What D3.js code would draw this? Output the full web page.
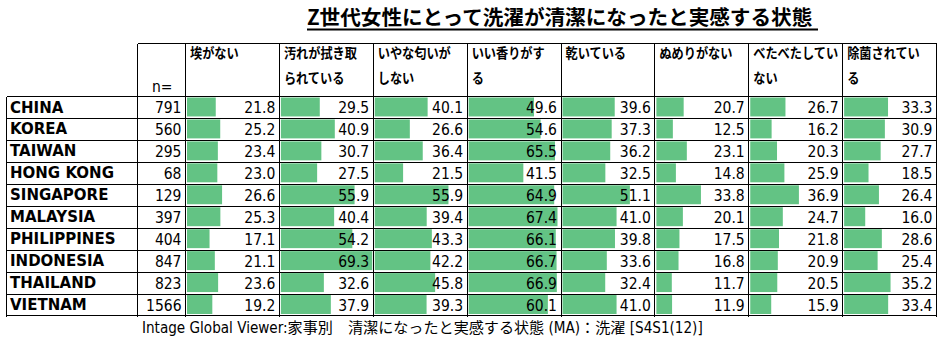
<!DOCTYPE html>
<html><head><meta charset="utf-8">
<script src="https://cdn.jsdelivr.net/npm/d3@7"></script>
<style>
html,body{margin:0;padding:0;background:#fff;}
svg{display:block;}
.num{font-family:"DejaVu Sans Condensed","DejaVu Sans",sans-serif;font-stretch:condensed;font-size:15.5px;fill:#000;}
.cty{font-family:"DejaVu Sans",sans-serif;font-weight:bold;font-size:15px;fill:#000;}
.hdr{font-family:"Noto Sans CJK JP",sans-serif;font-weight:bold;font-size:14px;fill:#000;}
.ttl{font-family:"Noto Sans CJK JP",sans-serif;font-weight:bold;font-size:20.6px;fill:#000;}
.ftr{font-family:"DejaVu Sans Condensed","DejaVu Sans","Noto Sans CJK JP",sans-serif;font-stretch:condensed;font-size:15.1px;fill:#000;}
</style>
</head><body>
<script>
const titleText = "Z世代女性にとって洗濯が清潔になったと実感する状態";
const footerText = "Intage Global Viewer:家事別\u3000清潔になったと実感する状態 (MA)：洗濯 [S4S1(12)]";
const countries = ["CHINA","KOREA","TAIWAN","HONG KONG","SINGAPORE","MALAYSIA","PHILIPPINES","INDONESIA","THAILAND","VIETNAM"];
const nValues = [791,560,295,68,129,397,404,847,823,1566];
const headers = ["埃がない","汚れが拭き取られている","いやな匂いがしない","いい香りがする","乾いている","ぬめりがない","べたべたしていない","除菌されている"];
const headerLines = [["埃がない"],["汚れが拭き取","られている"],["いやな匂いが","しない"],["いい香りがす","る"],["乾いている"],["ぬめりがない"],["べたべたしてい","ない"],["除菌されてい","る"]];
const dust    = [21.8,25.2,23.4,23.0,26.6,25.3,17.1,21.1,23.6,19.2];
const dirt    = [29.5,40.9,30.7,27.5,55.9,40.4,54.2,69.3,32.6,37.9];
const odor    = [40.1,26.6,36.4,21.5,55.9,39.4,43.3,42.2,45.8,39.3];
const scent   = [49.6,54.6,65.5,41.5,64.9,67.4,66.1,66.7,66.9,60.1];
const dry     = [39.6,37.3,36.2,32.5,51.1,41.0,39.8,33.6,32.4,41.0];
const slime   = [20.7,12.5,23.1,14.8,33.8,20.1,17.5,16.8,11.7,11.9];
const sticky  = [26.7,16.2,20.3,25.9,36.9,24.7,21.8,20.9,20.5,15.9];
const sterile = [33.3,30.9,27.7,18.5,26.4,16.0,28.6,25.4,35.2,33.4];
const series = [dust,dirt,odor,scent,dry,slime,sticky,sterile];

const W = 943, H = 338;
const svg = d3.select("body").append("svg").attr("width", W).attr("height", H);

const tableLeft = 6.5, countryRight = 137.5, nRight = 185.5, tableRight = 936.5;
const headTop = 43.5, headBottom = 96.5, tableBottom = 316;

const y = d3.scaleBand().domain(countries).range([headBottom, tableBottom]).paddingInner(0);
const x = d3.scaleBand().domain(headers).range([nRight, tableRight]).paddingInner(0);
const maxV = d3.max(series.flat());
const v = d3.scaleLinear().domain([0, maxV]).range([0, x.bandwidth() - 2.5]);
const px = d => Math.round(d - 0.5) + 0.5;

// title
svg.append("text").attr("class","ttl").attr("x",307).attr("y",24.5).text(titleText);
svg.append("line").attr("x1",307).attr("x2",818).attr("y1",29.5).attr("y2",29.5)
  .attr("stroke","#000").attr("stroke-width",2);

// bars
series.forEach((s, j) => {
  const h = headers[j];
  svg.append("g").selectAll("rect").data(s).join("rect")
    .attr("x", x(h) + 1.5)
    .attr("y", (d, i) => y(countries[i]) + 1)
    .attr("width", d => v(d))
    .attr("height", y.bandwidth() - 3)
    .attr("fill", "#63C384");
  svg.append("g").selectAll("text").data(s).join("text")
    .attr("class","num").attr("text-anchor","end")
    .attr("x", x(h) + x.bandwidth() - 4)
    .attr("y", (d, i) => y(countries[i]) + 16.5)
    .text(d => d.toFixed(1));
});

// country labels and n
svg.append("g").selectAll("text").data(countries).join("text")
  .attr("class","cty").attr("x",10).attr("y", d => y(d) + 16).text(d => d);
svg.append("g").selectAll("text").data(nValues).join("text")
  .attr("class","num").attr("text-anchor","end").attr("x", nRight - 4)
  .attr("y", (d, i) => y(countries[i]) + 16.5).text(d => d);

// header
svg.append("text").attr("class","num").attr("x",152).attr("y",92).text("n=");
const sx = 0.87;
headerLines.forEach((lines, j) => {
  const x0 = x(headers[j]) + 4.5;
  const t = svg.append("text").attr("class","hdr")
    .attr("transform", `translate(${x0},0) scale(${sx},1)`);
  lines.forEach((ln, k) => {
    t.append("tspan").attr("x", 0).attr("y", 58 + k * 25).text(ln);
  });
});

// grid lines
const g = svg.append("g").attr("stroke","#000").attr("stroke-width",1).attr("shape-rendering","crispEdges");
g.append("line").attr("x1",countryRight).attr("x2",tableRight).attr("y1",px(headTop)).attr("y2",px(headTop));
[headBottom, ...countries.map(c => y(c) + y.bandwidth())].forEach(yy => {
  g.append("line").attr("x1",tableLeft).attr("x2",tableRight).attr("y1",px(yy)).attr("y2",px(yy));
});
g.append("line").attr("x1",tableLeft).attr("x2",tableLeft).attr("y1",px(headBottom)).attr("y2",px(tableBottom));
[countryRight, nRight, ...headers.map(h => x(h) + x.bandwidth())].forEach(xx => {
  g.append("line").attr("x1",px(xx)).attr("x2",px(xx)).attr("y1",px(headTop)).attr("y2",px(tableBottom));
});

// footer
svg.append("text").attr("class","ftr").attr("x",142).attr("y",333).text(footerText);
</script>
</body></html>
